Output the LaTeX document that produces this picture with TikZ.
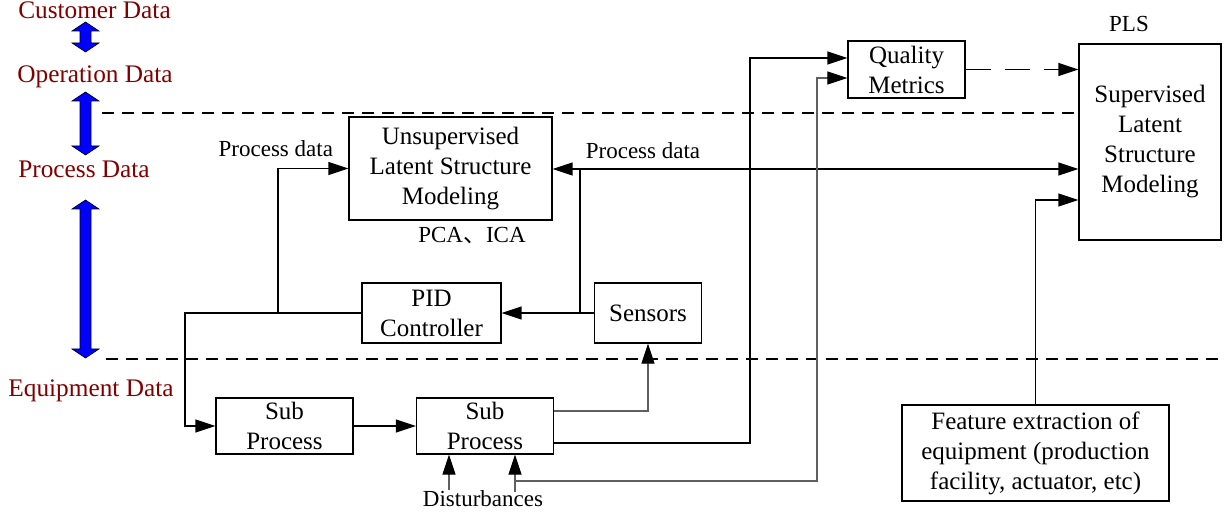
\documentclass[tikz,border=0pt]{standalone}
\usepackage{fontspec}
\setmainfont{Liberation Serif}
\newfontfamily\cjk{Noto Sans CJK SC}
\usetikzlibrary{arrows.meta}
\definecolor{layerred}{RGB}{128,0,0}
\definecolor{wiregray}{RGB}{95,95,95}
\newcommand\dblarr[3]{\filldraw[fill=blue, draw=black, line width=0.6pt]
  (#1,#2) -- (#1+13.5,#2+9) -- (#1+5.5,#2+9) -- (#1+5.5,#3-9) -- (#1+13.5,#3-9) -- (#1,#3)
  -- (#1-13.5,#3-9) -- (#1-5.5,#3-9) -- (#1-5.5,#2+9) -- (#1-13.5,#2+9) -- cycle;}
\begin{document}
\begin{tikzpicture}[x=1pt,y=-1pt,
  box/.style={draw, line width=1.2pt, inner sep=0pt, align=center, font=\fontsize{25}{30}\selectfont},
  lbl/.style={inner sep=0pt, anchor=base, font=\fontsize{23}{27}\selectfont},
  layer/.style={inner sep=0pt, anchor=base, text=layerred, font=\fontsize{25.3}{30}\selectfont},
  tip/.style={-{Triangle[length=20pt,width=13pt,black]}},
  wire/.style={line width=1.4pt},
  arr/.style={wire, tip},
  garr/.style={line width=1.1pt, draw=wiregray, tip},
  sep/.style={line width=1.3pt, dash pattern=on 12pt off 8pt},
  darr/.style={line width=1.4pt, dash pattern=on 25pt off 14pt, tip}
]
\useasboundingbox (0,0) rectangle (1226,518);

% layer labels
\node[layer] (cust) at (94.5,19) {Customer Data};
\node[layer] (oper) at (95,83) {Operation Data};
\node[layer] (proc) at (84,178) {Process Data};
\node[layer] (equip) at (91,396) {Equipment Data};
\dblarr{85.5}{22}{52}
\dblarr{85.5}{92}{155}
\dblarr{85.5}{200}{358}

% separators
\draw[sep] (102,113) -- (1079,113);
\draw[sep] (106,359) -- (1222,359);

% boxes
\node[box, minimum width=203pt, minimum height=103pt] (unsup) at (450.5,168.5) {Unsupervised\\Latent Structure\\Modeling};
\node[box, minimum width=139pt, minimum height=60pt] (pid) at (431.5,313) {PID\\Controller};
\node[box, minimum width=107pt, minimum height=60pt] (sensors) at (648,313) {Sensors};
\node[box, minimum width=137pt, minimum height=56pt] (sub1) at (284.5,426) {Sub\\Process};
\node[box, minimum width=137pt, minimum height=56pt] (sub2) at (485,426) {Sub\\Process};
\node[box, minimum width=117pt, minimum height=57pt] (qm) at (906.5,69.5) {Quality\\Metrics};
\node[box, minimum width=142pt, minimum height=196pt] (pls) at (1150,142) {Supervised\\Latent\\Structure\\Modeling};
\node[box, minimum width=267pt, minimum height=96pt] (feat) at (1035.5,453) {Feature extraction of\\equipment (production\\facility, actuator, etc)};

% labels
\node[lbl] (pdl) at (275.8,157) {Process data};
\node[lbl] (pdr) at (643,159) {Process data};
\node[lbl] (pca) at (472,243) {PCA{\cjk 、}ICA};
\node[lbl] (plsl) at (1129,32) {PLS};
\node[lbl] (dist) at (483,506) {Disturbances};

% junctions
\coordinate (c1) at (185,313);
\coordinate (j1) at (278,313);
\coordinate (j2) at (580,313);
\coordinate (j3) at (580,169);
\coordinate (c2) at (750,58);
\coordinate (d1) at (449,490);
\coordinate (d2) at (515,492);
\coordinate (c3) at (515,481);
\coordinate (c4) at (817,78);
\coordinate (c5) at (1036,200);

% connectors
\draw[arr] (pid.west) -- (c1) |- (sub1.west);
\draw[arr] (j1) |- (unsup.west);
\draw[arr] (sensors.west) -- (pid.east);
\draw[wire] (j2) -- (j3);
\draw[arr] (j3) -- (j3 -| unsup.east);
\draw[arr] (j3) -- (j3 -| pls.west);
\draw[arr] (sub1.east) -- (sub2.west);
\draw[garr] ([yshift=15pt]sub2.east) -| (sensors.south);
\draw[arr] ([yshift=-17pt]sub2.east) -| (c2) -- (c2 -| qm.west);
\draw[garr] (d1) -- (d1 |- sub2.south);
\draw[garr] (d2) -- (d2 |- sub2.south);
\draw[garr] (c3) -| (c4) -- (c4 -| qm.west);
\draw[darr] (qm.east) -- (qm.east -| pls.west);
\draw[arr] (feat.north) |- (c5 -| pls.west);
\end{tikzpicture}
\end{document}
